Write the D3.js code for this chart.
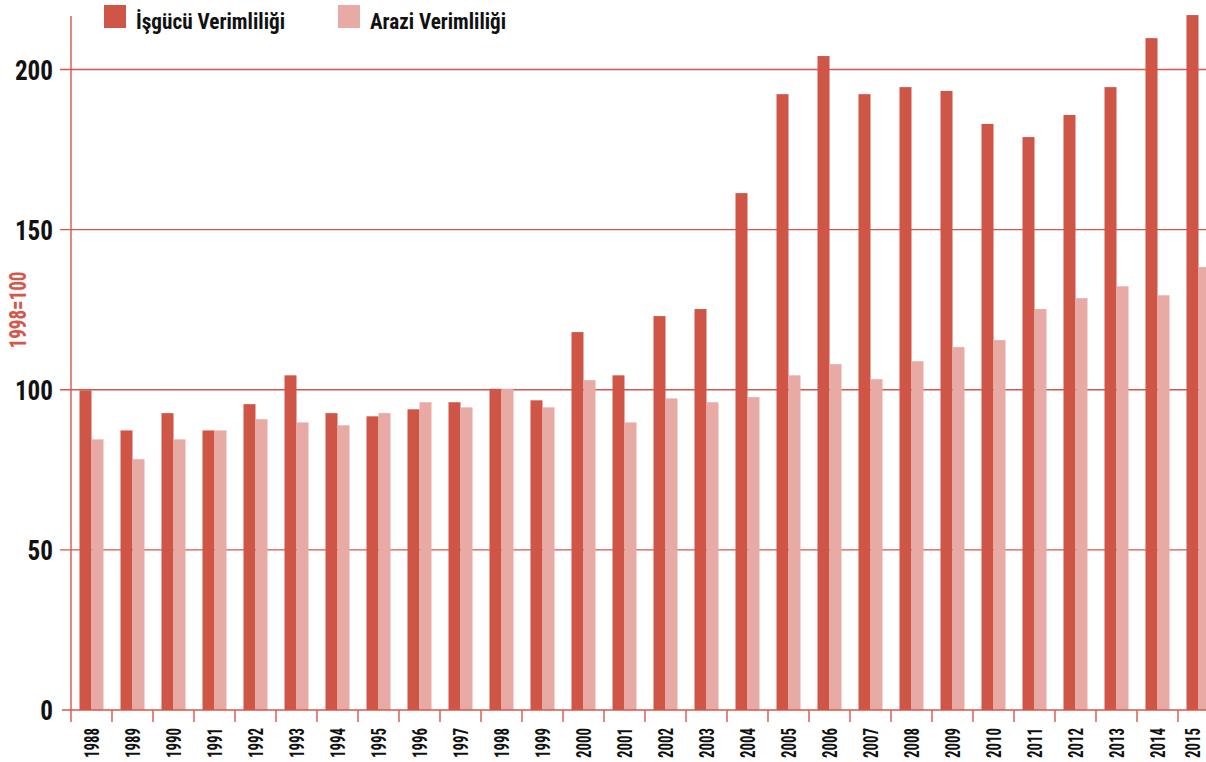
<!DOCTYPE html>
<html>
<head>
<meta charset="utf-8">
<script src="https://cdn.jsdelivr.net/npm/d3@7/dist/d3.min.js"></script>
<style>
  html, body { margin: 0; padding: 0; background: #fff; }
  svg { display: block; }
  text { font-family: "Liberation Sans Narrow", "Roboto Condensed", "DejaVu Sans Condensed", "Liberation Sans", sans-serif; font-weight: bold; }
</style>
</head>
<body>
<svg id="chart" width="1206" height="762"></svg>
<script>
const years = ["1988","1989","1990","1991","1992","1993","1994","1995","1996","1997","1998","1999","2000","2001","2002","2003","2004","2005","2006","2007","2008","2009","2010","2011","2012","2013","2014","2015"];
const labourProductivity = [99.8, 87.3, 92.7, 87.3, 95.5, 104.5, 92.7, 91.7, 93.9, 96.1, 100.3, 96.7, 118, 104.5, 123, 125.2, 161.4, 192.3, 204.2, 192.3, 194.5, 193.3, 183, 178.9, 185.8, 194.5, 209.8, 217];
const landProductivity = [84.5, 78.3, 84.5, 87.3, 90.8, 89.8, 88.9, 92.7, 96.1, 94.5, 100.3, 94.5, 103, 89.8, 97.3, 96.1, 97.7, 104.5, 108, 103.3, 108.9, 113.3, 115.5, 125.2, 128.6, 132.3, 129.5, 138.3];
const seriesNames = ["İşgücü Verimliliği", "Arazi Verimliliği"];
const yTicks = [0, 50, 100, 150, 200];
const yTitle = "1998=100";

const colors = ["#cf5546", "#e8aaa4"];
const lineColor = "#d6564a";

const W = 1206;
const svg = d3.select("#chart");
const x0 = 71, xEnd = 1219, yBase = 710, yTop200 = 69.5;

const padIn = 17 / 41;
const x = d3.scaleBand().domain(years).range([x0, xEnd]).paddingInner(padIn).paddingOuter(padIn / 2);
const xs = d3.scaleBand().domain([0, 1]).range([0, x.bandwidth()]);
const y = d3.scaleLinear().domain([0, 200]).range([yBase, yTop200]);
const boundary = d => x(d) - x.step() * padIn / 2;

// gridlines
svg.append("g").selectAll("line").data(yTicks.filter(d => d > 0)).join("line")
  .attr("x1", 60).attr("x2", W)
  .attr("y1", d => y(d)).attr("y2", d => y(d))
  .attr("stroke", lineColor).attr("stroke-width", 1.4);

// bars
const data = years.map((yr, i) => ({ yr, vals: [labourProductivity[i], landProductivity[i]] }));
const groups = svg.append("g").selectAll("g").data(data).join("g")
  .attr("transform", d => `translate(${x(d.yr)},0)`);
groups.selectAll("rect").data(d => d.vals.map((v, k) => ({ v, k }))).join("rect")
  .attr("x", d => xs(d.k)).attr("width", xs.bandwidth())
  .attr("y", d => y(d.v)).attr("height", d => y(0) - y(d.v))
  .attr("fill", d => colors[d.k]);

// y axis line
svg.append("line").attr("x1", x0).attr("x2", x0).attr("y1", 16).attr("y2", 722)
  .attr("stroke", lineColor).attr("stroke-width", 1.4);
// x axis baseline
svg.append("line").attr("x1", 62).attr("x2", W).attr("y1", y(0)).attr("y2", y(0))
  .attr("stroke", lineColor).attr("stroke-width", 1.4);
// x ticks at band boundaries
svg.append("g").selectAll("line").data(years.slice(1)).join("line")
  .attr("x1", d => boundary(d)).attr("x2", d => boundary(d))
  .attr("y1", y(0)).attr("y2", 722)
  .attr("stroke", lineColor).attr("stroke-width", 1.4);

// y tick labels
svg.append("g").selectAll("text").data(yTicks).join("text")
  .attr("x", 53).attr("y", d => y(d)).attr("dy", "0.36em")
  .attr("text-anchor", "end").attr("font-size", 28).attr("fill", "#111")
  .attr("textLength", d => String(d).length * 12.7).attr("lengthAdjust", "spacingAndGlyphs")
  .text(d => d);

// x tick labels (kept inside the picture)
svg.append("g").selectAll("text").data(years).join("text")
  .attr("transform", d => `translate(${Math.min(x(d) + x.bandwidth() / 2 + 0.5, W - 13)},728) rotate(-90)`)
  .attr("dy", "0.36em").attr("text-anchor", "end")
  .attr("font-size", 20).attr("fill", "#111")
  .attr("textLength", 30).attr("lengthAdjust", "spacingAndGlyphs")
  .text(d => d);

// y axis title
svg.append("text")
  .attr("transform", "translate(17,310) rotate(-90)")
  .attr("dy", "0.36em").attr("text-anchor", "middle")
  .attr("font-size", 24).attr("fill", "#d6564a")
  .attr("textLength", 77).attr("lengthAdjust", "spacingAndGlyphs")
  .text(yTitle);

// legend
const legendX = [104, 338];
const legendW = [149, 136];
seriesNames.forEach((name, i) => {
  svg.append("rect").attr("x", legendX[i]).attr("y", 5).attr("width", 22).attr("height", 23).attr("fill", colors[i]);
  svg.append("text").attr("x", legendX[i] + 32).attr("y", 29)
    .attr("font-size", 22).attr("fill", "#111")
    .attr("textLength", legendW[i]).attr("lengthAdjust", "spacingAndGlyphs")
    .text(name);
});
</script>
</body>
</html>
